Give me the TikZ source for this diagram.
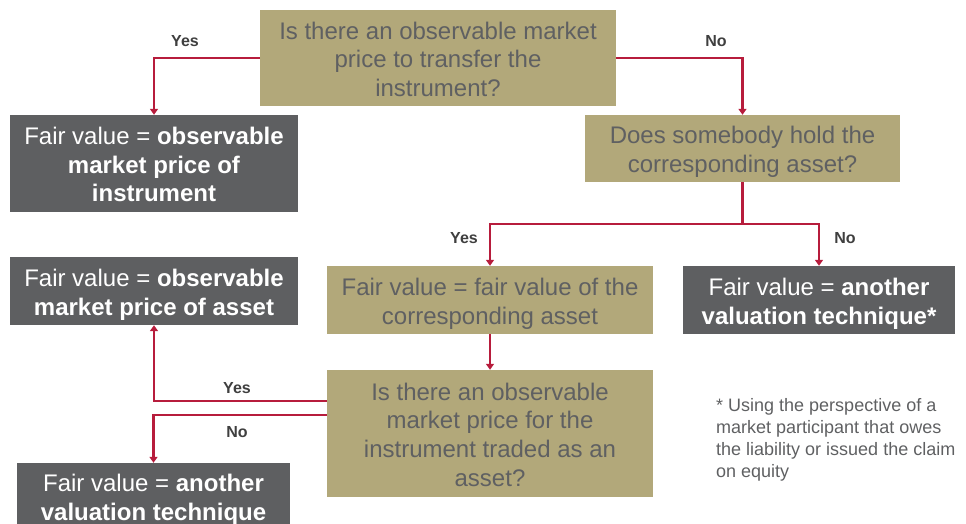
\documentclass[tikz,border=0pt]{standalone}
\usepackage{fontspec}
\setmainfont{Liberation Sans}
\usetikzlibrary{arrows.meta}
\definecolor{tan}{HTML}{B2A87A}
\definecolor{dgray}{HTML}{5E5F61}
\definecolor{tgray}{HTML}{5F6062}
\definecolor{lred}{HTML}{B71C3C}
\definecolor{lblc}{HTML}{3F3F3F}
\tikzset{
  boxtext/.style={align=center, inner sep=0pt,
    font=\fontsize{24}{28.7}\selectfont, text depth=2.5pt},
  two/.style={text height=50.7pt},
  three/.style={text height=79.4pt},
  four/.style={text height=108.1pt},
  qbox/.style={boxtext, fill=tan, text=tgray},
  abox/.style={boxtext, fill=dgray, text=white},
  arr/.style={draw=lred, line width=2.8pt, -{Triangle[length=6pt,width=8pt]}},
  ln/.style={draw=lred, line width=2.8pt},
  lbl/.style={text=lblc, font=\fontsize{16}{19}\selectfont\bfseries, inner sep=0pt}
}
\begin{document}
\begin{tikzpicture}[x=1pt,y=-1pt]
\useasboundingbox (0,0) rectangle (966,523);
\clip (0,0) rectangle (966,523);
\node[qbox, three, minimum width=356, minimum height=96] (Q1) at (438,58)
  {Is there an observable market\\price to transfer the\\instrument?};
\node[abox, three, minimum width=288, minimum height=97] (A1) at (154,163.5)
  {Fair value = \textbf{observable}\\\textbf{market price of}\\\textbf{instrument}};
\node[qbox, two, minimum width=315, minimum height=67] (Q2) at (742.5,148.5)
  {Does somebody hold the\\corresponding asset?};
\node[qbox, two, minimum width=326, minimum height=68] (A2) at (490,300)
  {Fair value = fair value of the\\corresponding asset};
\node[abox, two, minimum width=272, minimum height=68] (A3) at (819,300)
  {Fair value = \textbf{another}\\\textbf{valuation technique*}};
\node[qbox, four, minimum width=326, minimum height=127] (Q3) at (490,433.5)
  {Is there an observable\\market price for the\\instrument traded as an\\asset?};
\node[abox, two, minimum width=288, minimum height=68] (A4) at (154,291)
  {Fair value = \textbf{observable}\\\textbf{market price of asset}};
\node[abox, two, minimum width=273, minimum height=66] (A5) at (153.5,496)
  {Fair value = \textbf{another}\\\textbf{valuation technique}};

\coordinate (J) at (742.5,224);
\coordinate (ys) at (0,401);
\coordinate (ns) at (0,415);

\draw[arr] (Q1.west) -| (A1.north);
\draw[arr] (Q1.east) -| (Q2.north);
\draw[ln] (Q2.south) -- (J);
\draw[arr] (J) -| (A2.north);
\draw[arr] (J) -| (A3.north);
\draw[arr] (A2.south) -- (Q3.north);
\draw[arr] (Q3.west |- ys) -| (A4.south);
\draw[arr] (Q3.west |- ns) -| (A5.north);

\node[lbl] (l1) at (185,41) {Yes};
\node[lbl] (l2) at (716,41) {No};
\node[lbl] (l3) at (464,238) {Yes};
\node[lbl] (l4) at (845,238) {No};
\node[lbl] (l5) at (237,388) {Yes};
\node[lbl] (l6) at (237,432) {No};

\node[anchor=north west, align=left, inner sep=0pt, text=tgray,
  font=\fontsize{18}{22}\selectfont] (fn) at (716,398.5)
  {* Using the perspective of a\\market participant that owes\\the liability or issued the claim\\on equity};
\end{tikzpicture}
\end{document}
